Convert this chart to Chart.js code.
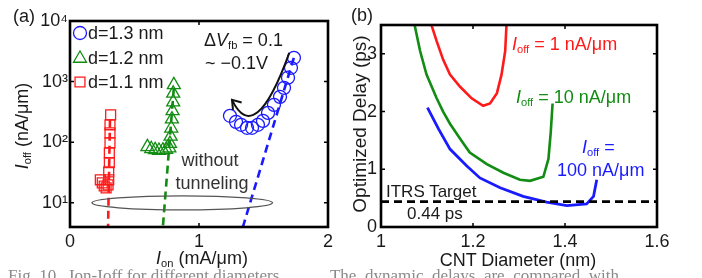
<!DOCTYPE html>
<html>
<head>
<meta charset="utf-8">
<script src="https://cdn.jsdelivr.net/npm/chart.js@4.4.1/dist/chart.umd.min.js"></script>
<style>
  html, body { margin: 0; padding: 0; background: #fff; }
  body { width: 702px; height: 278px; overflow: hidden; position: relative;
         font-family: "Liberation Sans", Arial, Helvetica, sans-serif; color: #1a1a1a; }
  canvas { position: absolute; top: 0; }
  #chartA { left: 0; }
  #chartB { left: 350px; }
  .lbl { position: absolute; white-space: nowrap; line-height: 1; font-size: 18px; }
  .lbl sub { font-size: 0.62em; vertical-align: -0.3em; line-height: 0; font-style: normal; }
  .l { transform: translateY(-50%); }
  .c { transform: translate(-50%, -50%); }
  .rc { transform: translate(-50%, -50%) rotate(-90deg); }
  .cap { position: absolute; white-space: pre; font-family: "Liberation Serif", "Times New Roman", serif;
         font-size: 17px; line-height: 1; color: #8a8a8a; }
</style>
</head>
<body>
<canvas id="chartA" width="350" height="278"></canvas>
<canvas id="chartB" width="352" height="278"></canvas>

<!-- panel (a) text -->
<div class="lbl c" style="left:24px;top:16px">(a)</div>
<div class="lbl rc" style="left:22px;top:126px"><i>I</i><sub>off</sub> (nA/μm)</div>
<div class="lbl c" style="left:202px;top:258px"><i>I</i><sub>on</sub> (mA/μm)</div>
<div class="lbl l" style="left:88px;top:33px">d=1.3 nm</div>
<div class="lbl l" style="left:88px;top:58px">d=1.2 nm</div>
<div class="lbl l" style="left:88px;top:82px">d=1.1 nm</div>
<div class="lbl l" style="left:204px;top:40px">Δ<i>V</i><sub>fb</sub> = 0.1</div>
<div class="lbl l" style="left:205px;top:63px">~ −0.1V</div>
<div class="lbl c" style="left:210px;top:160px;color:#333">without</div>
<div class="lbl c" style="left:212px;top:183px;color:#333">tunneling</div>

<!-- panel (b) text -->
<div class="lbl c" style="left:362px;top:15px">(b)</div>
<div class="lbl rc" style="left:359px;top:124px;font-size:19px">Optimized Delay (ps)</div>
<div class="lbl c" style="left:518px;top:260px">CNT Diameter (nm)</div>
<div class="lbl l" style="left:512px;top:44px;color:#ff1a1a"><i>I</i><sub>off</sub> = 1 nA/μm</div>
<div class="lbl l" style="left:516px;top:97px;color:#128c12"><i>I</i><sub>off</sub> = 10 nA/μm</div>
<div class="lbl l" style="left:582px;top:147px;color:#1a1aff"><i>I</i><sub>off</sub> =</div>
<div class="lbl l" style="left:557px;top:170px;color:#1a1aff">100 nA/μm</div>
<div class="lbl l" style="left:386px;top:191px;font-size:17px">ITRS Target</div>
<div class="lbl l" style="left:407px;top:213px;font-size:17px">0.44 ps</div>

<div class="cap" style="left:8px;top:267px">Fig. 10   Ion-Ioff for different diameters.           The  dynamic  delays  are  compared  with</div>

<script>
// ---- panel (a): Ion vs Ioff ----
const ionD13 = [1.736, 1.713, 1.69, 1.659, 1.628, 1.581, 1.535, 1.496, 1.457, 1.411, 1.372, 1.326, 1.287, 1.24];
const ioffD13 = [2470, 1690, 1160, 790, 561, 414, 305, 225, 194, 173, 173, 194, 217, 273];
const ionD12 = [0.805, 0.80, 0.80, 0.795, 0.79, 0.785, 0.78, 0.775, 0.77, 0.745, 0.72, 0.69, 0.66, 0.63, 0.60];
const ioffD12 = [885, 640, 460, 330, 240, 170, 125, 95, 80, 76, 74, 73, 75, 78, 84];
const ionD11 = [0.315, 0.31, 0.31, 0.31, 0.305, 0.305, 0.30, 0.30, 0.295, 0.28, 0.265, 0.25, 0.235];
const ioffD11 = [283, 194, 143, 98, 67, 46, 32.5, 24, 19.8, 17.7, 19, 21.4, 24];

// dashed "without tunneling" lines
const fitIon13 = [1.735, 1.34];
const fitIoff13 = [2470, 4];
const fitIon12 = [0.805, 0.72];
const fitIoff12 = [790, 4];
const fitIon11 = [0.31, 0.295];
const fitIoff11 = [235, 4];

const offDecades = [10, 100, 1000, 10000];
const offDecadeLabels = ['10¹', '10²', '10³', '10⁴'];

// ---- panel (b): delay vs diameter ----
const diamOff1 = [1.108, 1.121, 1.135, 1.150, 1.172, 1.197, 1.222, 1.237, 1.252, 1.262, 1.270, 1.273];
const delayOff1 = [3.54, 3.22, 2.90, 2.64, 2.43, 2.23, 2.10, 2.14, 2.32, 2.64, 3.05, 3.54];
const diamOff10 = [1.072, 1.085, 1.099, 1.121, 1.135, 1.150, 1.172, 1.193, 1.230, 1.266, 1.302, 1.324, 1.353, 1.364, 1.369, 1.373];
const delayOff10 = [3.54, 3.05, 2.64, 2.23, 2.0, 1.79, 1.53, 1.29, 1.09, 0.94, 0.82, 0.80, 0.87, 1.18, 1.64, 2.14];
const diamOff100 = [1.101, 1.125, 1.150, 1.186, 1.215, 1.259, 1.309, 1.360, 1.404, 1.447, 1.462, 1.469];
const delayOff100 = [2.07, 1.70, 1.35, 1.06, 0.85, 0.68, 0.53, 0.43, 0.37, 0.40, 0.53, 0.82];
const itrsTarget = 0.44;

const diamTicks = [1, 1.2, 1.4, 1.6];
const delayTicks = [0, 1, 2, 3];

const FONT = '"Liberation Sans", Arial, Helvetica, sans-serif';
const RED = '#ff1a1a', GREEN = '#128c12', BLUE = '#1a1aff';

function pts(xs, ys) {
    return xs.map((x, i) => ({ x: x, y: ys[i] }));
}

function drawMarker(ctx, style, x, y, r) {
    ctx.beginPath();
    if (style === 'circle') {
        ctx.arc(x, y, r, 0, Math.PI * 2);
    } else if (style === 'triangle') {
        for (let k = 0; k < 3; k++) {
            const rad = k * 2 * Math.PI / 3;
            const px = x + Math.sin(rad) * r, py = y - Math.cos(rad) * r;
            if (k === 0) ctx.moveTo(px, py); else ctx.lineTo(px, py);
        }
        ctx.closePath();
    } else {
        const s = Math.SQRT1_2 * r;
        ctx.rect(x - s, y - s, 2 * s, 2 * s);
    }
    ctx.stroke();
}

// box with small inward tick marks
const framePlugin = {
    id: 'frame',
    afterDatasetsDraw(chart) {
        const { ctx, chartArea: a, scales } = chart;
        ctx.save();
        ctx.strokeStyle = '#000';
        ctx.lineWidth = 1.5;
        const t = 4;
        scales.x.ticks.forEach(tk => {
            const px = scales.x.getPixelForValue(tk.value);
            if (px <= a.left + 2 || px >= a.right - 2) return;
            ctx.beginPath();
            ctx.moveTo(px, a.bottom); ctx.lineTo(px, a.bottom - t);
            ctx.moveTo(px, a.top); ctx.lineTo(px, a.top + t);
            ctx.stroke();
        });
        scales.y.ticks.forEach(tk => {
            const py = scales.y.getPixelForValue(tk.value);
            if (py <= a.top + 2 || py >= a.bottom - 2) return;
            ctx.beginPath();
            ctx.moveTo(a.left, py); ctx.lineTo(a.left + t, py);
            ctx.moveTo(a.right, py); ctx.lineTo(a.right - t, py);
            ctx.stroke();
        });
        ctx.lineWidth = 2.6;
        ctx.strokeRect(a.left, a.top, a.right - a.left, a.bottom - a.top);
        ctx.restore();
    }
};

// ellipse, curved arrow and legend markers of panel (a)
const noTunnelOn = [0.17, 1.57];
const noTunnelOff = 10;
const shiftArrowOn = [1.70, 1.434, 1.256];
const shiftArrowOff = [2990, 81, 500];

const decorA = {
    id: 'decorA',
    afterDatasetsDraw(chart) {
        const { ctx, chartArea: a } = chart;
        const xs = chart.scales.x, ys = chart.scales.y;
        ctx.save();

        const x0 = xs.getPixelForValue(noTunnelOn[0]);
        const x1 = xs.getPixelForValue(noTunnelOn[1]);
        const cy = ys.getPixelForValue(noTunnelOff);
        ctx.strokeStyle = '#555';
        ctx.lineWidth = 1.4;
        ctx.beginPath();
        ctx.ellipse((x0 + x1) / 2, cy, (x1 - x0) / 2, 7, 0, 0, Math.PI * 2);
        ctx.stroke();

        const p = shiftArrowOn.map((v, i) => [xs.getPixelForValue(v), ys.getPixelForValue(shiftArrowOff[i])]);
        ctx.strokeStyle = '#111';
        ctx.lineWidth = 2;
        ctx.beginPath();
        ctx.moveTo(p[0][0], p[0][1]);
        ctx.quadraticCurveTo(p[1][0], p[1][1], p[2][0], p[2][1]);
        ctx.stroke();
        const ang = Math.atan2(p[2][1] - p[1][1], p[2][0] - p[1][0]) - 0.25;
        const hl = 10;
        ctx.beginPath();
        ctx.moveTo(p[2][0] - hl * Math.cos(ang - 0.6), p[2][1] - hl * Math.sin(ang - 0.6));
        ctx.lineTo(p[2][0], p[2][1]);
        ctx.lineTo(p[2][0] - hl * Math.cos(ang + 0.6), p[2][1] - hl * Math.sin(ang + 0.6));
        ctx.stroke();

        ctx.lineWidth = 1.3;
        ctx.strokeStyle = BLUE;
        drawMarker(ctx, 'circle', a.left + 10, a.top + 12, 6.5);
        ctx.strokeStyle = GREEN;
        drawMarker(ctx, 'triangle', a.left + 10, a.top + 37.5, 7.5);
        ctx.strokeStyle = RED;
        drawMarker(ctx, 'rect', a.left + 10, a.top + 61, 7);
        ctx.restore();
    }
};

function markerSet(label, xs, ys, color, style, r) {
    return {
        label: label, data: pts(xs, ys), pointStyle: style, pointRadius: r, pointHoverRadius: r,
        borderColor: color, pointBorderColor: color, backgroundColor: 'rgba(0,0,0,0)',
        pointBackgroundColor: 'rgba(0,0,0,0)', pointBorderWidth: 1.3, showLine: false
    };
}

function lineSet(label, xs, ys, color, width, dash) {
    return {
        label: label, data: pts(xs, ys), showLine: true, pointRadius: 0, pointHoverRadius: 0,
        borderColor: color, borderWidth: width, borderDash: dash || [], tension: 0, clip: 0
    };
}

const tickFont = { size: 18, family: FONT };

new Chart(document.getElementById('chartA'), {
    type: 'scatter',
    data: {
        datasets: [
            lineSet('no tunneling 1.3', fitIon13, fitIoff13, BLUE, 2.6, [8, 5]),
            lineSet('no tunneling 1.2', fitIon12, fitIoff12, GREEN, 2.6, [8, 5]),
            lineSet('no tunneling 1.1', fitIon11, fitIoff11, RED, 2.6, [8, 5]),
            markerSet('d=1.3 nm', ionD13, ioffD13, BLUE, 'circle', 6.5),
            markerSet('d=1.2 nm', ionD12, ioffD12, GREEN, 'triangle', 7.5),
            markerSet('d=1.1 nm', ionD11, ioffD11, RED, 'rect', 7)
        ]
    },
    options: {
        responsive: false,
        animation: false,
        devicePixelRatio: 1,
        layout: { padding: { top: 21, right: 22, left: 0, bottom: 0 } },
        plugins: { legend: { display: false }, tooltip: { enabled: false } },
        scales: {
            x: {
                type: 'linear', min: 0, max: 2,
                afterFit: s => { s.height = 51; },
                grid: { display: false, drawTicks: false }, border: { display: false },
                ticks: { stepSize: 1, padding: 4, color: '#1a1a1a', font: tickFont }
            },
            y: {
                type: 'logarithmic', min: 4, max: 10000,
                afterFit: s => { s.width = 70; },
                afterBuildTicks: s => { s.ticks = offDecades.map(v => ({ value: v })); },
                grid: { display: false, drawTicks: false }, border: { display: false },
                ticks: {
                    padding: 2, autoSkip: false, color: '#1a1a1a', font: tickFont,
                    callback: v => offDecadeLabels[offDecades.indexOf(v)]
                }
            }
        }
    },
    plugins: [decorA, framePlugin]
});

new Chart(document.getElementById('chartB'), {
    type: 'scatter',
    data: {
        datasets: [
            lineSet('ITRS Target', [diamTicks[0], diamTicks[diamTicks.length - 1]], [itrsTarget, itrsTarget], '#000', 2.6, [8, 5]),
            lineSet('Ioff = 1 nA/μm', diamOff1, delayOff1, RED, 2.6),
            lineSet('Ioff = 10 nA/μm', diamOff10, delayOff10, GREEN, 2.6),
            lineSet('Ioff = 100 nA/μm', diamOff100, delayOff100, BLUE, 2.8)
        ]
    },
    options: {
        responsive: false,
        animation: false,
        devicePixelRatio: 1,
        layout: { padding: { top: 25, right: 45, left: 0, bottom: 0 } },
        plugins: { legend: { display: false }, tooltip: { enabled: false } },
        scales: {
            x: {
                type: 'linear', min: 1, max: 1.6,
                afterFit: s => { s.height = 51; },
                afterBuildTicks: s => { s.ticks = diamTicks.map(v => ({ value: v })); },
                grid: { display: false, drawTicks: false }, border: { display: false },
                ticks: { padding: 4, color: '#1a1a1a', font: tickFont, callback: v => String(+v.toFixed(1)) }
            },
            y: {
                type: 'linear', min: 0, max: 3.5,
                afterFit: s => { s.width = 31; },
                afterBuildTicks: s => { s.ticks = delayTicks.map(v => ({ value: v })); },
                grid: { display: false, drawTicks: false }, border: { display: false },
                ticks: { padding: 4, color: '#1a1a1a', font: tickFont }
            }
        }
    },
    plugins: [framePlugin]
});
</script>
</body>
</html>
